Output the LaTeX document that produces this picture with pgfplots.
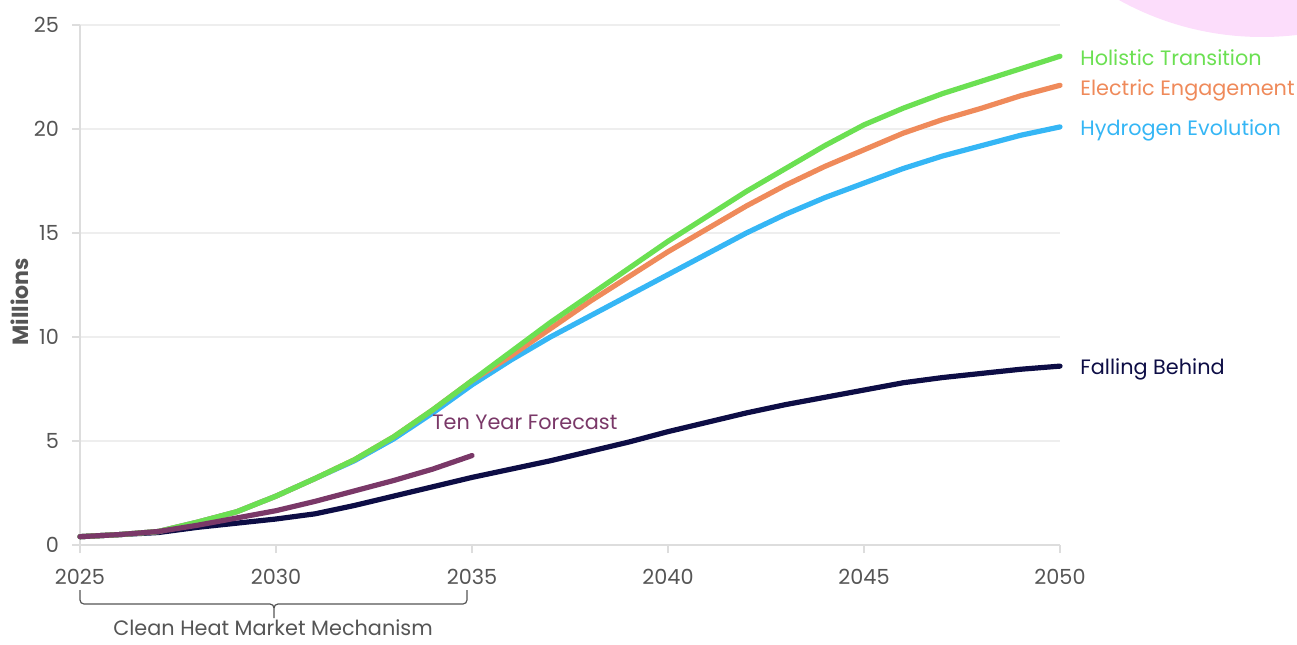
\documentclass[border=0pt]{standalone}
\usepackage{pgfplots}
\pgfplotsset{compat=1.18}
\usepackage{fontspec}
\setmainfont{Poppins}
\definecolor{cgreen}{HTML}{6BE052}
\definecolor{corange}{HTML}{EF8A5A}
\definecolor{cblue}{HTML}{35B6F5}
\definecolor{cnavy}{HTML}{0D0D45}
\definecolor{cpurple}{HTML}{7A3868}
\definecolor{cpink}{HTML}{FCDDFB}
\definecolor{ctext}{HTML}{555555}
\definecolor{cgrid}{HTML}{EEEEEE}
\definecolor{caxis}{HTML}{DDDDDD}
\begin{document}
\begin{tikzpicture}
\useasboundingbox (0pt,0pt) rectangle (648.5pt,322pt);
\begin{scope}
\clip (0pt,0pt) rectangle (648.5pt,322pt);
\fill[cpink] (631pt,451pt) circle[radius=147.5pt];
\end{scope}
\begin{axis}[
  at={(40pt,49.5pt)}, anchor=south west,
  scale only axis, width=490pt, height=260pt,
  xmin=2025, xmax=2050, ymin=0, ymax=25,
  xtick={2025,2030,...,2050}, ytick={0,5,...,25},
  axis x line*=bottom, axis y line*=left,
  axis line style={draw=caxis, line width=0.7pt, -},
  ymajorgrids, grid style={draw=cgrid, line width=0.8pt},
  tick align=outside, major tick length=4pt,
  tick style={draw=caxis, line width=0.7pt},
  /pgf/number format/assume math mode=true,
  /pgf/number format/1000 sep={},
  ticklabel style={font=\fontsize{10.4}{12}\selectfont, text=ctext},
  yticklabel style={xshift=-3pt},
  xticklabel style={yshift=-4.5pt},
  clip=false,
  every axis plot/.append style={line width=2.6pt, line join=round, line cap=round},
]
\addplot[cnavy] coordinates {(2025,0.4)(2026,0.5)(2027,0.6)(2028,0.85)(2029,1.05)(2030,1.25)(2031,1.5)(2032,1.9)(2033,2.35)(2034,2.8)(2035,3.25)(2036,3.65)(2037,4.05)(2038,4.5)(2039,4.95)(2040,5.45)(2041,5.9)(2042,6.35)(2043,6.75)(2044,7.1)(2045,7.45)(2046,7.8)(2047,8.05)(2048,8.25)(2049,8.45)(2050,8.6)};
\addplot[cblue] coordinates {(2025,0.4)(2026,0.5)(2027,0.65)(2028,1.1)(2029,1.6)(2030,2.35)(2031,3.2)(2032,4.05)(2033,5.1)(2034,6.35)(2035,7.7)(2036,8.9)(2037,10.0)(2038,11.0)(2039,12.0)(2040,13.0)(2041,14.0)(2042,15.0)(2043,15.9)(2044,16.7)(2045,17.4)(2046,18.1)(2047,18.7)(2048,19.2)(2049,19.7)(2050,20.1)};
\addplot[corange] coordinates {(2025,0.4)(2026,0.5)(2027,0.65)(2028,1.1)(2029,1.6)(2030,2.35)(2031,3.2)(2032,4.1)(2033,5.2)(2034,6.5)(2035,7.9)(2036,9.1)(2037,10.4)(2038,11.7)(2039,12.9)(2040,14.1)(2041,15.2)(2042,16.3)(2043,17.3)(2044,18.2)(2045,19.0)(2046,19.8)(2047,20.45)(2048,21.0)(2049,21.6)(2050,22.1)};
\addplot[cgreen] coordinates {(2025,0.4)(2026,0.5)(2027,0.65)(2028,1.1)(2029,1.6)(2030,2.35)(2031,3.2)(2032,4.1)(2033,5.2)(2034,6.5)(2035,7.9)(2036,9.3)(2037,10.7)(2038,12.0)(2039,13.3)(2040,14.6)(2041,15.8)(2042,17.0)(2043,18.1)(2044,19.2)(2045,20.2)(2046,21.0)(2047,21.7)(2048,22.3)(2049,22.9)(2050,23.5)};
\addplot[cpurple] coordinates {(2025,0.4)(2026,0.5)(2027,0.65)(2028,0.95)(2029,1.3)(2030,1.65)(2031,2.1)(2032,2.6)(2033,3.1)(2034,3.65)(2035,4.3)};
\begin{scope}[every node/.style={anchor=west, inner sep=0pt, text depth=0pt, font=\fontsize{10.4}{12}\selectfont}]
\node[text=cgreen] at (axis cs:2050,23.41) [xshift=10pt] {Holistic Transition};
\node[text=corange] at (axis cs:2050,21.97) [xshift=10pt] {Electric Engagement};
\node[text=cblue] at (axis cs:2050,20.05) [xshift=10pt] {Hydrogen Evolution};
\node[text=cnavy] at (axis cs:2050,8.56) [xshift=10pt] {Falling Behind};
\node[text=cpurple] at (axis cs:2033.98,5.91) {Ten Year Forecast};
\end{scope}
\end{axis}
\begin{scope}[x=0.5pt,y=0.5pt]
\node[rotate=90, text=ctext, font=\fontsize{11}{13}\selectfont\bfseries] at (20,342) {Millions};
\draw[ctext, line width=0.6pt] (80,54) -- (80,44) to[out=-90,in=180] (84,40) -- (270,40) to[out=0,in=90] (274,36) -- (274,26);
\draw[ctext, line width=0.6pt] (274,36) to[out=90,in=180] (278,40) -- (463,40) to[out=0,in=-90] (467,44) -- (467,54);
\node[text=ctext, font=\fontsize{10.4}{12}\selectfont, inner sep=0pt, text depth=0pt, anchor=base] at (273,9) {Clean Heat Market Mechanism};
\end{scope}
\end{tikzpicture}
\end{document}
